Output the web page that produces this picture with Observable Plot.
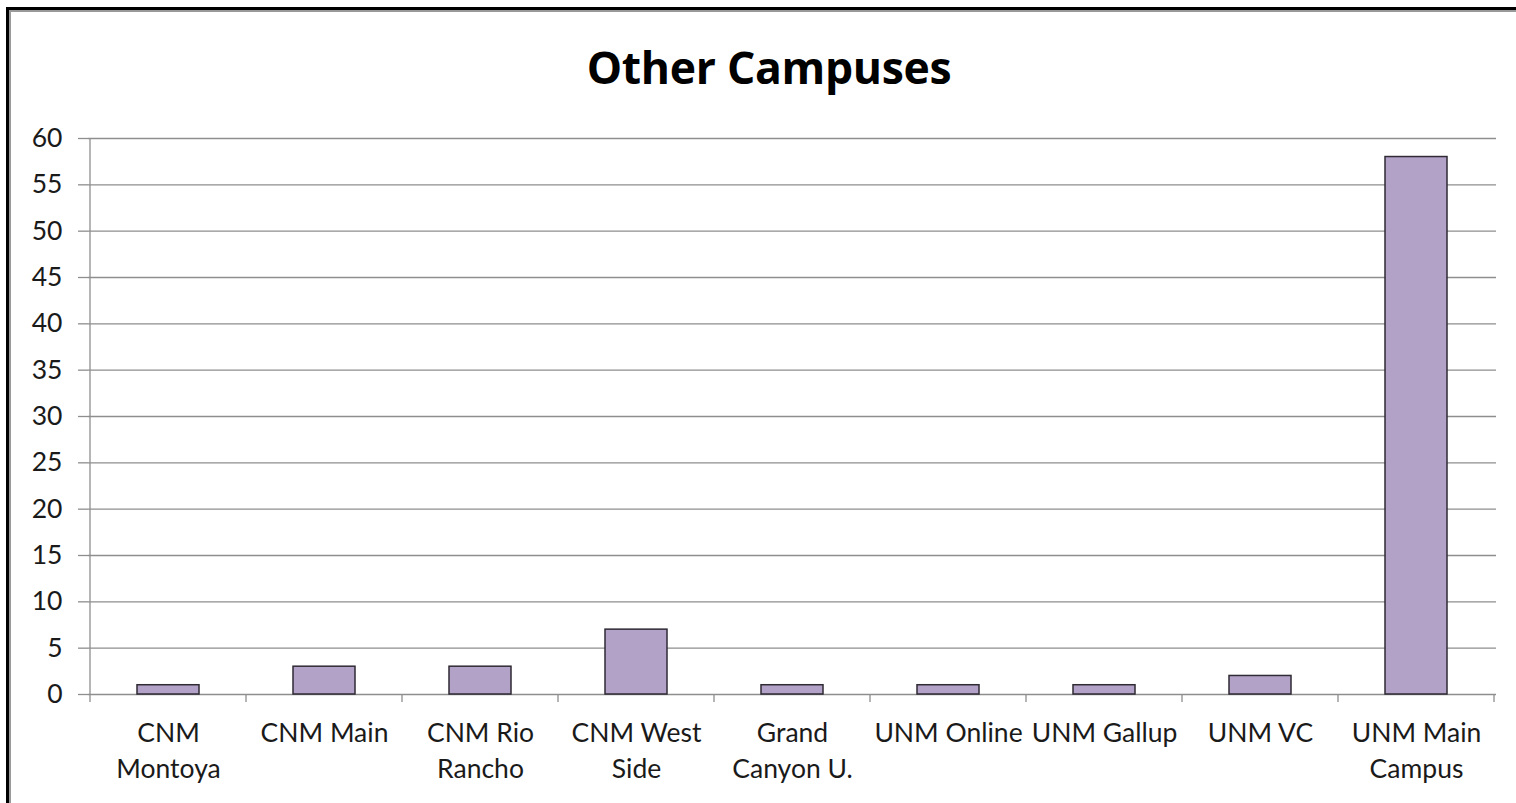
<!DOCTYPE html>
<html>
<head>
<meta charset="utf-8">
<script src="https://cdn.jsdelivr.net/npm/d3@7"></script>
<script src="https://cdn.jsdelivr.net/npm/@observablehq/plot@0.6"></script>
<style>
  html, body { margin: 0; padding: 0; background: #fff; }
  body { width: 1516px; height: 803px; position: relative; overflow: hidden; font-family: Lato, "Noto Sans", sans-serif; }
  #border { position: absolute; left: 6px; top: 7px; width: 1600px; height: 900px;
            border-left: 3px solid #000; border-top: 3px solid #000; box-sizing: border-box; }
  #border::after { content: ""; position: absolute; left: 0; top: 0; right: 0; bottom: 0;
            border-left: 2px solid #9a9a9a; border-top: 2px solid #9a9a9a; }
  #title { position: absolute; left: 769px; top: 0; transform: translateX(-50%);
           font-family: "Open Sans", sans-serif; font-weight: 700; font-size: 44.5px; line-height: 1;
           color: #000; white-space: nowrap; padding-top: 45px; letter-spacing: -0.3px; }
  #chart { position: absolute; left: 0; top: 100px; }
</style>
</head>
<body>
<div id="border"></div>
<div id="title">Other Campuses</div>
<div id="chart"></div>
<script>
const categories = ["CNM Montoya", "CNM Main", "CNM Rio Rancho", "CNM West Side", "Grand Canyon U.", "UNM Online", "UNM Gallup", "UNM VC", "UNM Main Campus"];
const tickLabels = ["CNM\nMontoya", "CNM Main", "CNM Rio\nRancho", "CNM West\nSide", "Grand\nCanyon U.", "UNM Online", "UNM Gallup", "UNM VC", "UNM Main\nCampus"];
const counts = [1, 3, 3, 7, 1, 1, 1, 2, 58];
const yTicks = [0, 5, 10, 15, 20, 25, 30, 35, 40, 45, 50, 55, 60];

const data = categories.map((c, i) => ({campus: c, count: counts[i]}));
const labelOf = new Map(categories.map((c, i) => [c, tickLabels[i]]));

const gridColor = "#8e8e8e";
const textColor = "#1a1a1a";

const axisFrame = (index, scales, values, dims) => {
  const sx = scales.x, sy = scales.y;
  const step = typeof sx.step === "function" ? sx.step() : (sx(categories[1]) - sx(categories[0]));
  const bw = typeof sx.bandwidth === "function" ? sx.bandwidth() : step * 0.4;
  const g = d3.create("svg:g").attr("stroke", gridColor).attr("stroke-width", 1.3).attr("fill", "none");
  const bounds = categories.map(c => sx(c) + bw / 2 - step / 2);
  bounds.push(bounds[bounds.length - 1] + step);
  const y0 = sy(0), y1 = sy(yTicks[yTicks.length - 1]);
  g.append("line").attr("x1", bounds[0]).attr("x2", bounds[0]).attr("y1", y0).attr("y2", y1);
  for (const b of bounds) {
    g.append("line").attr("x1", b).attr("x2", b).attr("y1", y0).attr("y2", y0 + 8);
  }
  return g.node();
};

const fs = 26.5;
const chart = Plot.plot({
  width: 1516,
  height: 703,
  marginTop: 38,
  marginBottom: 109,
  marginLeft: 88,
  marginRight: 20,
  style: {fontFamily: "Lato, 'Noto Sans', sans-serif", background: "transparent", overflow: "visible"},
  x: {domain: categories, paddingInner: 0.6, paddingOuter: 0.3, axis: null, label: null},
  y: {domain: [0, 60], axis: null, label: null},
  marks: [
    Plot.ruleY(yTicks, {stroke: gridColor, strokeWidth: 1.3}),
    Plot.axisY({ticks: yTicks, label: null, tickSize: 10, tickPadding: 16, fontSize: fs, stroke: gridColor, strokeWidth: 1.3, fill: textColor, tickFormat: d => String(d)}),
    axisFrame,
    Plot.barY(data, {x: "campus", y: "count", fill: "#b3a2c7", stroke: "#2f2a33", strokeWidth: 1.5}),
    Plot.axisX({label: null, tickSize: 0, tickPadding: 22, fontSize: fs, lineHeight: 1.36, fill: textColor, tickFormat: d => labelOf.get(d)})
  ]
});
document.getElementById("chart").appendChild(chart);
</script>
</body>
</html>
